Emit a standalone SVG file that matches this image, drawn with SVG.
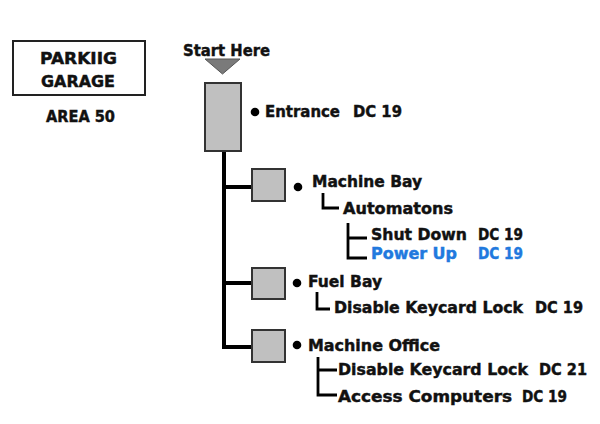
<svg xmlns="http://www.w3.org/2000/svg" width="600" height="424" viewBox="0 0 600 424">
  <style>
    text { font-family: "DejaVu Sans", Verdana, sans-serif; font-weight: bold; font-size: 16px; fill: #111; stroke: #111; stroke-width: 0.45; }
    .blue { fill: #2179de; stroke: #2179de; }
    .box { fill: #c0c0c0; stroke: #333; stroke-width: 2; }
    .trunk { fill: none; stroke: #000; stroke-width: 4; }
    .tick { fill: none; stroke: #000; stroke-width: 2.8; }
    .dot { fill: #000; }
  </style>
  <rect width="600" height="424" fill="#fff"/>

  <!-- title block -->
  <g id="title">
    <rect x="13" y="41" width="132" height="54" fill="#fff" stroke="#222" stroke-width="2"/>
    <text x="40" y="64" textLength="77" lengthAdjust="spacingAndGlyphs">PARKIIG</text>
    <text x="41" y="87" textLength="74" lengthAdjust="spacingAndGlyphs">GARAGE</text>
    <text x="46" y="122" textLength="69" lengthAdjust="spacingAndGlyphs">AREA 50</text>
  </g>

  <g id="start">
    <text x="183" y="56" textLength="87" lengthAdjust="spacingAndGlyphs">Start Here</text>
    <polygon points="205,59 240,59 222.5,74" fill="#7a7a7a" stroke="#555" stroke-width="1"/>
  </g>

  <!-- connectors -->
  <g id="connectors">
    <path class="trunk" d="M224,151 V347 M224,187 H252 M224,283 H252 M222,347 H252"/>
    <path class="tick" d="M323,193 V208 H339"/>
    <path class="tick" d="M348,223 V258 H367 M348,238 H367"/>
    <path class="tick" d="M317,292 V309 H330"/>
    <path class="tick" d="M318,357 V395 H337 M318,370 H337"/>
  </g>

  <g id="entrance">
    <rect class="box" x="205" y="83" width="36" height="68"/>
    <circle class="dot" cx="255" cy="112" r="4.3"/>
    <text x="265" y="117" textLength="75" lengthAdjust="spacingAndGlyphs">Entrance</text>
    <text x="353" y="117" textLength="49" lengthAdjust="spacingAndGlyphs">DC 19</text>
  </g>

  <g id="machine-bay">
    <rect class="box" x="252" y="169" width="33" height="32"/>
    <circle class="dot" cx="298" cy="187" r="4.3"/>
    <text x="312" y="187" textLength="110" lengthAdjust="spacingAndGlyphs">Machine Bay</text>
    <text x="343" y="214" textLength="110" lengthAdjust="spacingAndGlyphs">Automatons</text>
    <text x="371" y="240" textLength="96" lengthAdjust="spacingAndGlyphs">Shut Down</text>
    <text x="478" y="240" textLength="45" lengthAdjust="spacingAndGlyphs">DC 19</text>
    <text class="blue" x="371" y="259" textLength="86" lengthAdjust="spacingAndGlyphs">Power Up</text>
    <text class="blue" x="478" y="259" textLength="45" lengthAdjust="spacingAndGlyphs">DC 19</text>
  </g>

  <g id="fuel-bay">
    <rect class="box" x="252" y="268" width="33" height="31"/>
    <circle class="dot" cx="297" cy="283" r="4.3"/>
    <text x="308" y="287" textLength="74" lengthAdjust="spacingAndGlyphs">Fuel Bay</text>
    <text x="334" y="313" textLength="189" lengthAdjust="spacingAndGlyphs">Disable Keycard Lock</text>
    <text x="535" y="313" textLength="48" lengthAdjust="spacingAndGlyphs">DC 19</text>
  </g>

  <g id="machine-office">
    <rect class="box" x="252" y="330" width="33" height="32"/>
    <circle class="dot" cx="297" cy="345" r="4.3"/>
    <text x="308" y="351" textLength="132" lengthAdjust="spacingAndGlyphs">Machine Office</text>
    <text x="338" y="375" textLength="190" lengthAdjust="spacingAndGlyphs">Disable Keycard Lock</text>
    <text x="539" y="375" textLength="48" lengthAdjust="spacingAndGlyphs">DC 21</text>
    <text x="338" y="402" textLength="174" lengthAdjust="spacingAndGlyphs">Access Computers</text>
    <text x="522" y="402" textLength="45" lengthAdjust="spacingAndGlyphs">DC 19</text>
  </g>
</svg>
